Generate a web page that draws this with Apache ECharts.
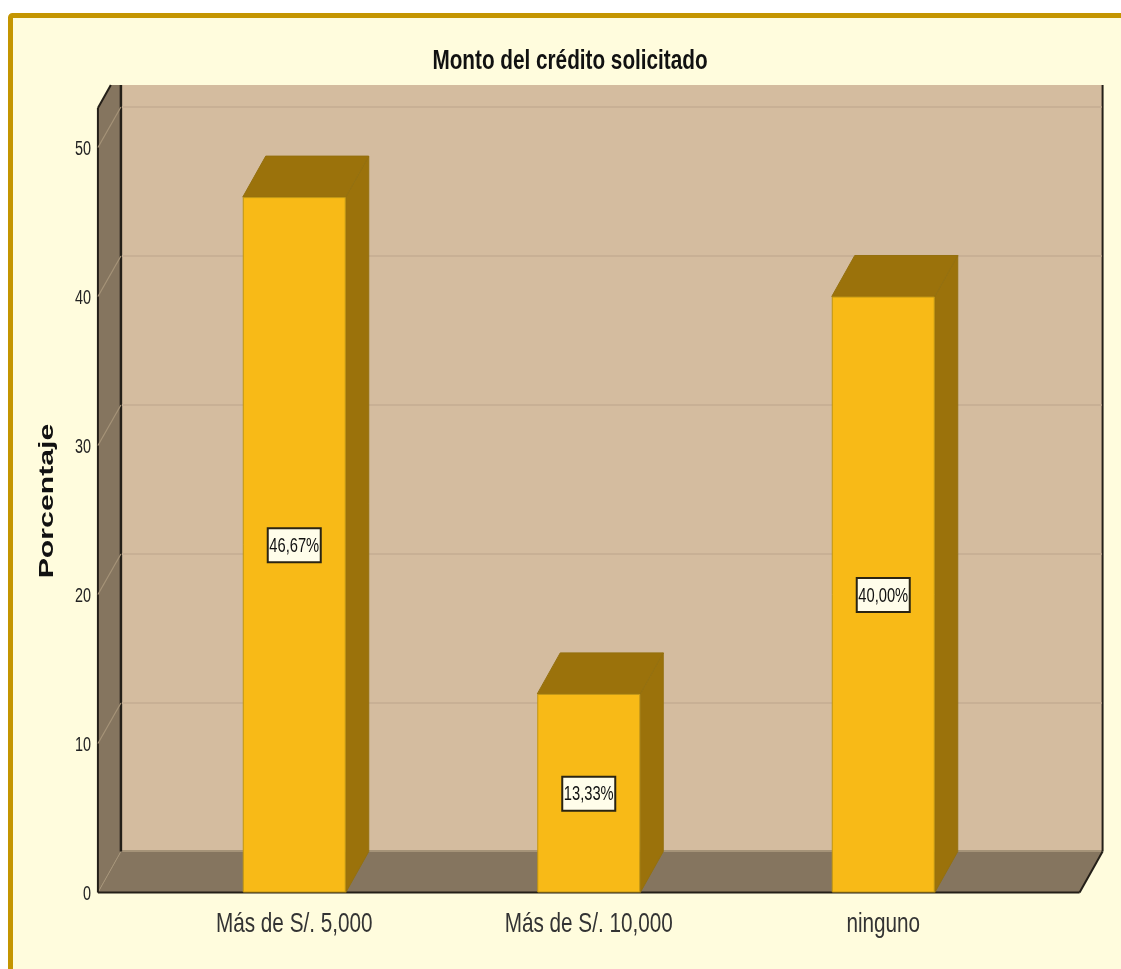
<!DOCTYPE html>
<html><head><meta charset="utf-8">
<style>html,body{margin:0;padding:0;background:#fff;overflow:hidden}#c{width:1121px;height:969px}</style>
<script src="https://cdn.jsdelivr.net/npm/echarts@6/dist/echarts.min.js"></script>
</head><body><div id="c"></div>
<script>
const chartTitle = 'Monto del crédito solicitado';
const yAxisTitle = 'Porcentaje';
const categories = ['Más de S/. 5,000', 'Más de S/. 10,000', 'ninguno'];
const values = [46.67, 13.33, 40.00];
const yTicks = [0, 10, 20, 30, 40, 50];

const FONT = '"Liberation Sans",Arial,sans-serif';
const DX = 23, DY = -41, TOP = 85, AXIS_MAX = 52.65;
const chart = echarts.init(document.getElementById('c'), null, {renderer: 'canvas'});

function bounds(api) {
  const band = api.size([1, 0])[0];
  const first = api.coord([0, 0])[0];
  const last = api.coord([categories.length - 1, 0])[0];
  return {left: first - band * 2 / 3, right: last + band * 2 / 3, floor: api.coord([0, 0])[1], top: api.coord([0, AXIS_MAX])[1]};
}
const poly = (points, fill, stroke, lw) => ({type: 'polygon', shape: {points}, style: {fill: fill, stroke: stroke || fill, lineWidth: lw === undefined ? 1 : lw}});
const line = (x1, y1, x2, y2, stroke, lw) => ({type: 'line', shape: {x1, y1, x2, y2}, style: {stroke, lineWidth: lw}});
const squeezed = (text, x, y, size, scaleX, color, weight, align, rotation) => ({
  type: 'text', x, y, scaleX, rotation: rotation || 0,
  style: {text, fill: color, font: (weight || 'normal') + ' ' + size + 'px ' + FONT, align: align || 'center', verticalAlign: 'middle'}
});

chart.setOption({
  animation: false,
  backgroundColor: 'transparent',
  graphic: [{type: 'rect', z: -10, shape: {x: 10.5, y: 15.5, width: 1300, height: 1100, r: 2},
    style: {fill: '#FFFCDD', stroke: '#C49500', lineWidth: 5}}],
  grid: {left: 147, width: 883.5, top: 108, height: 784.5},
  xAxis: {type: 'category', data: categories,
    axisLine: {show: false}, axisTick: {show: false}, splitLine: {show: false}, axisLabel: {show: false}},
  yAxis: {type: 'value', min: 0, max: AXIS_MAX, offset: 49,
    axisLine: {show: false}, axisTick: {show: false}, splitLine: {show: false}, axisLabel: {show: false}},
  series: [
    {type: 'custom', z: 1, silent: true, data: [0], clip: false,
      renderItem: (p, api) => {
        const b = bounds(api);
        const backL = b.left + DX, backR = b.right + DX, backF = b.floor + DY;
        const topFrontX = b.left + (b.top - TOP) * DX / -DY;
        return {type: 'group', children: [
          {type: 'rect', shape: {x: backL, y: TOP, width: b.right - b.left, height: backF - TOP}, style: {fill: '#D4BC9F'}},
          poly([[b.left, b.top], [topFrontX, TOP], [backL, TOP], [backL, backF], [b.left, b.floor]], '#85755F', '#85755F', 0),
          poly([[b.left, b.floor], [b.right, b.floor], [backR, backF], [backL, backF]], '#85755F', '#85755F', 0),
          line(backL, backF - 0.5, backR, backF - 0.5, '#A59378', 2),
          line(b.left, b.floor, backL, backF, '#A59378', 1),
          line(b.left, b.top, b.left, b.floor, '#241F18', 2),
          line(b.left, b.top, topFrontX, TOP, '#241F18', 2),
          line(backL, TOP, backL, backF, '#241F18', 2.5),
          line(b.left, b.floor, b.right, b.floor, '#241F18', 2),
          line(b.right, b.floor, backR, backF, '#241F18', 2),
          line(backR, TOP, backR, backF, '#241F18', 2),
          squeezed(chartTitle, 570, 61.5, 28, 0.74, '#111', 'bold'),
          squeezed(yAxisTitle, 47, 501, 21, 1.44, '#111', 'bold', 'center', Math.PI / 2)
        ]};
      }},
    {type: 'custom', z: 2, silent: true, clip: false, data: yTicks.map(v => [v]),
      encode: {y: 0},
      renderItem: (p, api) => {
        const b = bounds(api);
        const v = api.value(0);
        const y = api.coord([0, v])[1];
        const tickText = squeezed(String(v), b.left - 7, y + 2, 20, 0.72, '#222', 'normal', 'right');
        if (v === 0) return {type: 'group', children: [tickText]};
        return {type: 'group', children: [
          line(b.left, y, b.left + DX, y + DY + 0.5, '#A59378', 1.2),
          line(b.left + DX + 1, y + DY + 0.5, b.right + DX - 1, y + DY + 0.5, '#C8B095', 2),
          tickText
        ]};
      }},
    {type: 'custom', z: 3, silent: true, clip: false, data: values.map((v, i) => [i, v]),
      encode: {x: 0, y: 1},
      renderItem: (p, api) => {
        const cx = api.coord([api.value(0), 0])[0], w = 103;
        const floor = api.coord([0, 0])[1];
        const t = api.coord([0, api.value(1)])[1];
        const l = cx - w / 2, r = cx + w / 2;
        return {type: 'group', children: [
          poly([[r, floor], [r + DX, floor + DY], [r + DX, t + DY], [r, t]], '#9B720B', '#94700F', 1),
          poly([[l, t], [l + DX, t + DY], [r + DX, t + DY], [r, t]], '#9B720B', '#94700F', 1)
        ]};
      }},
    {type: 'bar', z: 4, data: values, barWidth: 103, silent: true,
      itemStyle: {color: '#F8BA17', borderColor: '#C09512', borderWidth: 1}},
    {type: 'custom', z: 5, silent: true, clip: false, data: values.map((v, i) => [i, v]),
      encode: {x: 0, y: 1},
      renderItem: (p, api) => {
        const v = api.value(1);
        const cx = api.coord([api.value(0), 0])[0];
        const cy = api.coord([0, v / 2])[1] + 0.5;
        return {type: 'group', children: [
          {type: 'rect', shape: {x: cx - 26.5, y: cy - 17, width: 53, height: 34},
            style: {fill: '#FFFDEA', stroke: '#2A2413', lineWidth: 2}},
          squeezed(v.toFixed(2).replace('.', ',') + '%', cx, cy + 1, 21, 0.70, '#111')
        ]};
      }},
    {type: 'custom', z: 6, silent: true, clip: false, data: categories.map((c, i) => [i]),
      encode: {x: 0},
      renderItem: (p, api) => {
        const i = api.value(0);
        const pt = api.coord([i, 0]);
        return squeezed(categories[i], pt[0], pt[1] + 31.5, 28, 0.74, '#333');
      }}
  ]
});
</script></body></html>
